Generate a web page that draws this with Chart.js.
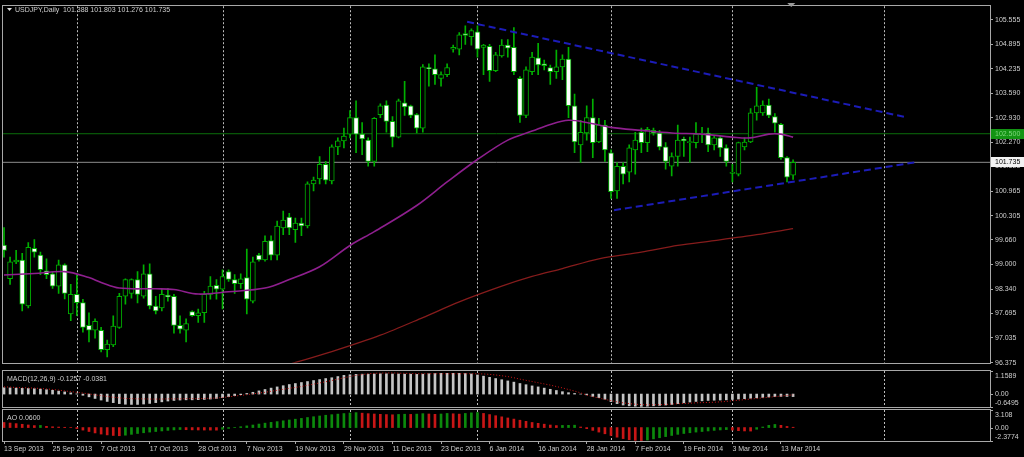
<!DOCTYPE html>
<html><head><meta charset="utf-8">
<script src="https://cdn.jsdelivr.net/npm/chart.js@4.4.1/dist/chart.umd.min.js"></script>
<style>
html,body{margin:0;padding:0;background:#000;overflow:hidden}
#wrap{position:relative;width:1024px;height:457px;background:#000}
canvas{position:absolute;left:0}
</style></head><body>
<div id="wrap">
<canvas id="cMain" width="1024" height="369" style="top:0;width:1024px;height:369px"></canvas>
<canvas id="cMacd" width="1024" height="40" style="top:369px;width:1024px;height:40px"></canvas>
<canvas id="cAo" width="1024" height="48" style="top:409px;width:1024px;height:48px"></canvas>
</div>
<script>
// ---------------- DATA ----------------
const dateLabels = ['13 Sep 2013','25 Sep 2013','7 Oct 2013','17 Oct 2013','28 Oct 2013','7 Nov 2013','19 Nov 2013','29 Nov 2013','11 Dec 2013','23 Dec 2013','6 Jan 2014','16 Jan 2014','28 Jan 2014','7 Feb 2014','19 Feb 2014','3 Mar 2014','13 Mar 2014'];
const dateLabelBar = [0,8,16,24,32,40,48,56,64,72,80,88,96,104,112,120,128];
const monthStartBar = [12,36,57,78,100,120,145];
const yTickVals = [105.555,104.895,104.235,103.590,102.930,102.270,101.625,100.965,100.305,99.660,99.000,98.340,97.695,97.035,96.375];

const opens = [99.52,98.62,99.07,99.12,97.89,99.43,99.25,98.83,98.75,98.42,98.99,97.68,98.20,97.98,97.37,97.24,97.24,96.72,96.85,97.32,98.15,98.23,98.60,98.15,98.75,97.89,97.84,98.18,98.15,97.37,97.24,97.74,97.63,97.71,98.20,98.44,98.34,98.81,98.60,98.49,98.65,98.02,99.25,99.12,99.64,99.25,99.98,100.27,99.93,100.11,100.03,101.16,101.29,101.68,101.24,102.15,102.31,102.49,102.93,102.49,102.33,101.76,103.01,103.27,102.83,102.41,103.33,103.25,103.01,102.65,104.27,104.24,103.98,104.08,104.76,104.76,105.18,105.10,105.23,104.81,104.84,104.19,104.58,104.87,104.81,103.98,102.99,104.16,104.53,104.37,104.27,104.16,104.29,104.50,103.25,102.20,102.52,102.93,102.28,102.73,101.99,100.97,101.63,101.47,102.07,102.54,102.26,102.59,102.52,102.15,101.63,101.89,102.36,102.26,102.26,102.49,102.52,102.20,102.39,102.12,101.44,101.42,102.15,102.28,103.06,103.06,103.27,102.96,102.75,101.86,101.388];
const highs = [99.99,99.20,99.38,99.30,99.59,99.67,99.33,99.15,98.81,99.12,99.02,98.47,98.73,98.07,97.71,97.55,97.32,96.98,97.63,98.23,98.62,98.62,98.81,98.99,99.02,98.15,98.34,98.36,98.20,97.63,97.55,97.76,97.81,98.28,98.68,98.60,98.86,98.86,98.73,98.75,99.41,99.20,99.30,99.77,99.77,100.16,100.43,100.37,100.24,100.24,101.21,101.34,101.89,101.76,102.20,102.39,102.65,103.12,103.38,102.80,102.39,102.93,103.30,103.38,102.96,103.43,103.90,103.27,103.04,104.35,104.37,104.61,104.16,104.37,104.87,105.21,105.39,105.31,105.39,104.89,104.89,104.68,105.02,105.02,105.34,104.03,104.29,104.68,104.92,104.47,104.34,104.74,104.61,104.81,103.56,102.86,103.25,103.43,102.91,102.86,102.07,101.73,101.73,102.20,102.54,102.65,102.67,102.65,102.59,102.26,101.99,102.73,102.41,102.41,102.80,102.67,102.65,102.46,102.46,102.20,101.68,102.28,102.39,103.17,103.74,103.38,103.43,103.04,102.78,101.89,101.803];
const lows = [99.20,98.47,99.02,97.76,97.84,99.20,98.73,98.62,98.36,98.23,98.08,97.50,97.63,97.19,96.93,97.03,96.66,96.53,96.80,97.29,97.94,98.10,97.97,98.10,97.81,97.68,97.76,98.02,97.16,97.16,96.93,97.61,97.45,97.45,98.07,98.07,97.81,98.55,98.23,98.36,97.68,97.97,99.09,99.09,99.12,99.12,99.80,99.80,99.59,99.77,99.98,100.97,101.16,101.16,101.16,101.94,102.12,102.39,101.99,101.94,101.63,101.63,102.93,102.54,102.15,102.39,102.99,102.93,102.52,102.54,103.77,103.82,103.77,104.03,104.68,104.61,104.89,104.87,104.55,104.08,103.90,104.16,104.55,104.55,104.08,102.80,102.93,104.08,104.08,104.21,103.82,103.98,103.95,102.93,101.99,101.73,102.33,101.86,102.26,101.76,100.77,100.77,101.16,101.21,101.42,101.99,102.02,102.46,102.07,101.55,101.37,101.63,101.89,101.73,102.12,102.26,102.02,102.07,101.89,101.63,101.21,101.37,102.07,102.26,102.86,102.99,102.93,102.54,101.81,101.21,101.276];
const closes = [99.38,99.07,99.12,97.94,99.46,99.33,98.86,98.73,98.42,98.99,98.23,98.20,97.98,97.32,97.24,97.48,96.72,96.87,97.35,98.15,98.60,98.60,98.20,98.75,97.89,97.76,98.20,98.13,97.37,97.27,97.42,97.63,97.71,98.20,98.42,98.34,98.68,98.60,98.49,98.62,98.07,99.07,99.12,99.62,99.25,100.03,100.19,99.98,100.11,100.03,101.16,101.26,101.68,101.26,102.15,102.31,102.44,102.93,102.49,102.36,101.76,102.91,103.25,102.83,102.41,103.38,103.22,102.99,102.65,104.29,104.24,104.08,104.08,104.27,104.81,105.15,105.13,105.26,104.76,104.87,104.19,104.61,104.87,104.79,104.16,102.99,104.21,104.55,104.34,104.32,104.16,104.29,104.50,103.25,102.28,102.54,102.93,102.26,102.73,102.07,100.95,101.63,101.42,102.12,102.33,102.26,102.62,102.52,102.15,101.76,101.89,102.33,102.31,102.28,102.49,102.52,102.20,102.39,102.12,101.76,101.47,102.26,102.28,103.06,103.25,103.27,102.99,102.78,101.86,101.34,101.735];

const ma50Bar = [0,5,10,14,16,19,25,28,32,37,43,47,52,57,61,68,73,78,83,87,90,93,96,100,105,110,115,120,123,126,128,130];
const ma50 = [98.72,98.76,98.81,98.65,98.52,98.37,98.35,98.33,98.21,98.27,98.37,98.60,98.94,99.51,99.88,100.58,101.21,101.81,102.33,102.57,102.75,102.86,102.80,102.67,102.59,102.52,102.49,102.41,102.39,102.49,102.49,102.41];
const ma200Bar = [47,54,62,69,75,82,87,92,98,105,111,117,124,130];
const ma200 = [96.33,96.67,97.11,97.58,98.00,98.42,98.68,98.89,99.15,99.33,99.51,99.64,99.80,99.96];

const resistBar = [76.3,148.4], resistVal = [105.495,102.949];
const supportBar = [100.5,150.6], supportVal = [100.454,101.747];
const levelLine = 102.500;
const bidPrice = 101.735;

const macdMain = [0.32,0.31,0.30,0.29,0.28,0.27,0.25,0.22,0.19,0.15,0.11,0.06,
0.01,-0.06,-0.14,-0.22,-0.30,-0.37,-0.43,-0.48,-0.51,-0.52,-0.52,-0.50,
-0.47,-0.43,-0.39,-0.35,-0.32,-0.30,-0.29,-0.29,-0.28,-0.27,-0.25,-0.22,
-0.18,-0.13,-0.08,-0.03,0.03,0.09,0.16,0.23,0.30,0.36,0.42,0.48,
0.53,0.58,0.63,0.68,0.73,0.78,0.82,0.88,0.94,0.97,0.99,1.00,
1.00,1.01,1.02,1.02,1.01,1.01,1.00,1.00,0.99,1.00,1.02,1.03,
1.04,1.04,1.04,1.04,1.03,1.01,0.96,0.90,0.84,0.78,0.72,0.66,
0.60,0.53,0.47,0.41,0.36,0.30,0.24,0.18,0.12,0.07,0.03,0.00,
-0.04,-0.12,-0.18,-0.26,-0.38,-0.48,-0.55,-0.59,-0.61,-0.62,-0.61,-0.59,
-0.57,-0.55,-0.52,-0.48,-0.44,-0.40,-0.37,-0.34,-0.32,-0.31,-0.30,-0.29,
-0.27,-0.25,-0.23,-0.21,-0.19,-0.17,-0.15,-0.13,-0.12,-0.12,-0.1257];
const macdSignal = [0.36,0.35,0.33,0.32,0.31,0.30,0.28,0.26,0.23,0.20,0.16,0.12,
0.09,0.05,0.01,-0.04,-0.08,-0.12,-0.16,-0.19,-0.22,-0.23,-0.24,-0.24,
-0.25,-0.25,-0.25,-0.24,-0.24,-0.24,-0.23,-0.23,-0.23,-0.22,-0.21,-0.20,
-0.17,-0.14,-0.10,-0.07,-0.03,0.01,0.05,0.09,0.14,0.19,0.24,0.29,
0.33,0.38,0.44,0.50,0.56,0.62,0.68,0.75,0.82,0.88,0.94,0.98,
1.02,1.04,1.05,1.06,1.06,1.05,1.04,1.03,1.02,1.02,1.02,1.02,
1.02,1.02,1.02,1.02,1.02,1.02,1.02,1.01,0.99,0.96,0.92,0.88,
0.82,0.75,0.69,0.63,0.57,0.51,0.45,0.38,0.31,0.23,0.15,0.06,
-0.05,-0.13,-0.20,-0.27,-0.33,-0.39,-0.44,-0.48,-0.51,-0.53,-0.54,-0.54,
-0.53,-0.52,-0.50,-0.49,-0.47,-0.46,-0.44,-0.43,-0.42,-0.41,-0.39,-0.37,
-0.34,-0.31,-0.28,-0.25,-0.22,-0.19,-0.16,-0.13,-0.10,-0.07,-0.0381];
const aoVals = [0.90,0.80,0.70,0.58,0.46,0.35,0.38,0.22,0.14,0.09,0.05,0.02,
-0.20,-0.45,-0.70,-0.95,-1.15,-1.30,-1.40,-1.45,-1.35,-1.20,-1.05,-0.92,
-0.80,-0.70,-0.60,-0.50,-0.42,-0.35,-0.38,-0.41,-0.43,-0.44,-0.45,-0.46,
-0.30,-0.15,0.02,0.15,0.30,0.45,0.62,0.78,0.92,1.05,1.20,1.34,
1.48,1.62,1.78,1.92,2.05,2.18,2.28,2.38,2.48,2.58,2.64,2.55,
2.46,2.40,2.34,2.30,2.26,2.32,2.36,2.33,2.38,2.46,2.40,2.34,
2.40,2.50,2.44,2.38,2.50,2.60,2.66,2.50,2.30,2.10,1.90,1.70,
1.50,1.30,1.10,0.90,0.75,0.60,0.45,0.35,0.38,0.40,0.42,0.10,
-0.20,-0.50,-0.80,-1.10,-1.40,-1.70,-1.95,-2.15,-2.25,-2.30,-2.20,-2.00,
-1.80,-1.60,-1.40,-1.20,-1.05,-0.92,-0.80,-0.70,-0.60,-0.50,-0.42,-0.36,
-0.45,-0.55,-0.60,-0.62,-0.30,0.10,0.40,0.55,0.40,0.20,0.06];

// ---------------- STYLE ----------------
const GREEN = '#00b000';
const FRAME = '#a8a8a8';
const TXT = '#cfcfcf';
const FONT = '7px "Liberation Sans", Arial, sans-serif';
const X_MIN = -0.165, X_MAX = 162.44;
Chart.defaults.font.family = '"Liberation Sans", Arial, sans-serif';
Chart.defaults.font.size = 7;
Chart.defaults.color = TXT;

const bars = opens.map((_, i) => i);

function framePlugin() {
  return { id: 'frame', afterDraw(chart) {
    const a = chart.chartArea, ctx = chart.ctx;
    ctx.save(); ctx.strokeStyle = FRAME; ctx.lineWidth = 1;
    ctx.strokeRect(Math.round(a.left) - 0.5, Math.round(a.top) - 0.5,
      Math.round(a.right) - Math.round(a.left) + 1, Math.round(a.bottom) - Math.round(a.top) + 1);
    ctx.restore();
  }};
}
function vgridPlugin() {
  return { id: 'vgrid', beforeDatasetsDraw(chart) {
    const a = chart.chartArea, ctx = chart.ctx, sx = chart.scales.x;
    ctx.save(); ctx.strokeStyle = '#bdbdbd'; ctx.lineWidth = 1; ctx.setLineDash([2, 2]);
    monthStartBar.forEach(b => {
      const x = Math.round(sx.getPixelForValue(b)) + 0.5;
      ctx.beginPath(); ctx.moveTo(x, a.top); ctx.lineTo(x, a.bottom); ctx.stroke();
    });
    ctx.restore();
  }};
}
function sideLabels(items, title) {
  return { id: 'sideLabels', afterDraw(chart) {
    const a = chart.chartArea, ctx = chart.ctx, sy = chart.scales.y;
    ctx.save(); ctx.font = FONT; ctx.fillStyle = TXT; ctx.textAlign = 'left';
    ctx.textBaseline = 'middle';
    ctx.fillText(title, 7, a.top + 8);
    ctx.strokeStyle = FRAME;
    items.forEach(it => {
      const y = sy.getPixelForValue(it.v);
      ctx.beginPath(); ctx.moveTo(a.right, Math.round(y) + 0.5); ctx.lineTo(a.right + 3, Math.round(y) + 0.5); ctx.stroke();
      let ty = y;
      if (it.pos === 'top') ty = y + 5;
      if (it.pos === 'bottom') ty = y - 4;
      ctx.fillText(it.t, a.right + 5, ty);
    });
    ctx.restore();
  }};
}

const common = {
  responsive: false, maintainAspectRatio: false, animation: false, devicePixelRatio: 1, events: [],
  plugins: { legend: { display: false }, tooltip: { enabled: false } }
};
const xHidden = { type: 'linear', min: X_MIN, max: X_MAX, display: false, offset: false, grid: { offset: false } };

// ---------------- MAIN CHART ----------------
const mainPlugin = { id: 'mainText', afterDraw(chart) {
  const ctx = chart.ctx, sy = chart.scales.y, a = chart.chartArea;
  ctx.save();
  ctx.fillStyle = '#e0e0e0';
  ctx.beginPath(); ctx.moveTo(7, 8); ctx.lineTo(12, 8); ctx.lineTo(9.5, 11); ctx.closePath(); ctx.fill();
  ctx.font = FONT; ctx.fillStyle = TXT; ctx.textBaseline = 'middle'; ctx.textAlign = 'left';
  ctx.fillText('USDJPY,Daily  101.388 101.803 101.276 101.735', 15, 10);
  ctx.fillStyle = '#9a9a9a';
  const sx = chart.scales.x.getPixelForValue(129.7);
  ctx.beginPath(); ctx.moveTo(sx - 4, 3); ctx.lineTo(sx + 4, 3); ctx.lineTo(sx, 7); ctx.closePath(); ctx.fill();
  let y = sy.getPixelForValue(levelLine);
  ctx.fillStyle = '#139413'; ctx.fillRect(a.right + 1, Math.round(y) - 5, 33, 10);
  ctx.fillStyle = '#7fd87f'; ctx.fillText(levelLine.toFixed(3), a.right + 5, y);
  y = sy.getPixelForValue(bidPrice);
  ctx.fillStyle = '#f2f2f2'; ctx.fillRect(a.right + 1, Math.round(y) - 5, 33, 10);
  ctx.fillStyle = '#000'; ctx.fillText(bidPrice.toFixed(3), a.right + 5, y);
  ctx.restore();
}};

new Chart(document.getElementById('cMain'), {
  type: 'bar',
  data: { datasets: [
    { type: 'line', data: ma50Bar.map((b, k) => ({ x: b, y: ma50[k] })), borderColor: '#8e1f8e', borderWidth: 1.6, pointRadius: 0, tension: 0.35, order: -2 },
    { type: 'line', data: ma200Bar.map((b, k) => ({ x: b, y: ma200[k] })), borderColor: '#861c1c', borderWidth: 1.3, pointRadius: 0, tension: 0.3, order: -2 },
    { type: 'line', data: resistBar.map((b, k) => ({ x: b, y: resistVal[k] })), borderColor: '#1c1cb8', borderWidth: 2, borderDash: [7, 4], pointRadius: 0, order: -3 },
    { type: 'line', data: supportBar.map((b, k) => ({ x: b, y: supportVal[k] })), borderColor: '#1c1cb8', borderWidth: 2, borderDash: [7, 4], pointRadius: 0, order: -3 },
    { type: 'line', data: [{ x: X_MIN, y: levelLine }, { x: X_MAX, y: levelLine }], borderColor: '#0b6e0b', borderWidth: 1, pointRadius: 0, order: 5 },
    { type: 'line', data: [{ x: X_MIN, y: bidPrice }, { x: X_MAX, y: bidPrice }], borderColor: '#8c8c8c', borderWidth: 1, pointRadius: 0, order: 5 },
    { type: 'bar', data: bars.map(i => ({ x: i, y: [opens[i], closes[i]] })),
      backgroundColor: bars.map(i => closes[i] >= opens[i] ? '#000000' : '#ffffff'),
      borderColor: GREEN, borderWidth: 1, borderSkipped: false, barThickness: 5, minBarLength: 1, grouped: false, order: 1 },
    { type: 'bar', data: bars.map(i => ({ x: i, y: [lows[i], highs[i]] })),
      backgroundColor: GREEN, barThickness: 1, grouped: false, order: 2 }
  ]},
  options: Object.assign({}, common, {
    layout: { padding: { left: 3, top: 3, right: 0, bottom: 1 } },
    scales: {
      x: xHidden,
      y: { type: 'linear', position: 'right', min: 96.37, max: 105.913,
        afterBuildTicks: ax => { ax.ticks = yTickVals.map(v => ({ value: v })); },
        afterFit: s => { s.width = 34; },
        ticks: { padding: 2, color: TXT, font: { size: 7 }, callback: v => Number(v).toFixed(3) },
        grid: { drawOnChartArea: false, drawTicks: true, tickLength: 3, color: FRAME },
        border: { display: false } }
    }
  }),
  plugins: [vgridPlugin(), framePlugin(), mainPlugin]
});

// ---------------- MACD ----------------
new Chart(document.getElementById('cMacd'), {
  type: 'bar',
  data: { datasets: [
    { type: 'line', data: bars.map(i => ({ x: i, y: macdSignal[i] })), borderColor: '#d01818', borderWidth: 1, borderDash: [1, 2], pointRadius: 0, order: -1 },
    { type: 'bar', data: bars.map(i => ({ x: i, y: macdMain[i] })), backgroundColor: '#c4c4c4', barThickness: 2, grouped: false, order: 1 }
  ]},
  options: Object.assign({}, common, {
    layout: { padding: { left: 3, top: 2, right: 34, bottom: 2 } },
    scales: {
      x: xHidden,
      y: { type: 'linear', min: -0.6495, max: 1.1589, display: false }
    }
  }),
  plugins: [vgridPlugin(), framePlugin(),
    sideLabels([{ v: 1.1589, t: '1.1589', pos: 'top' }, { v: 0, t: '0.00', pos: 'mid' }, { v: -0.6495, t: '-0.6495', pos: 'bottom' }],
      'MACD(12,26,9) -0.1257 -0.0381')]
});

// ---------------- AO ----------------
new Chart(document.getElementById('cAo'), {
  type: 'bar',
  data: { datasets: [
    { type: 'bar', data: bars.map(i => ({ x: i, y: aoVals[i] })),
      backgroundColor: bars.map(i => (i > 0 && aoVals[i] > aoVals[i - 1]) ? '#0c8a0c' : '#c81616'),
      barThickness: 2, grouped: false }
  ]},
  options: Object.assign({}, common, {
    layout: { padding: { left: 3, top: 1, right: 34, bottom: 0 } },
    scales: {
      x: { type: 'linear', min: X_MIN, max: X_MAX, position: 'bottom', offset: false,
        afterBuildTicks: ax => { ax.ticks = dateLabelBar.map(v => ({ value: v })); },
        afterFit: s => { s.height = 16; },
        ticks: { autoSkip: false, maxRotation: 0, minRotation: 0, align: 'start', padding: 1, color: TXT, font: { size: 7 },
          callback: (v, i) => dateLabels[i] },
        grid: { drawOnChartArea: false, drawTicks: true, tickLength: 3, color: FRAME, offset: false },
        border: { display: false } },
      y: { type: 'linear', min: -2.3774, max: 3.108, display: false }
    }
  }),
  plugins: [vgridPlugin(), framePlugin(),
    sideLabels([{ v: 3.108, t: '3.108', pos: 'top' }, { v: 0, t: '0.00', pos: 'mid' }, { v: -2.3774, t: '-2.3774', pos: 'bottom' }],
      'AO 0.0600')]
});
</script>
</body></html>
